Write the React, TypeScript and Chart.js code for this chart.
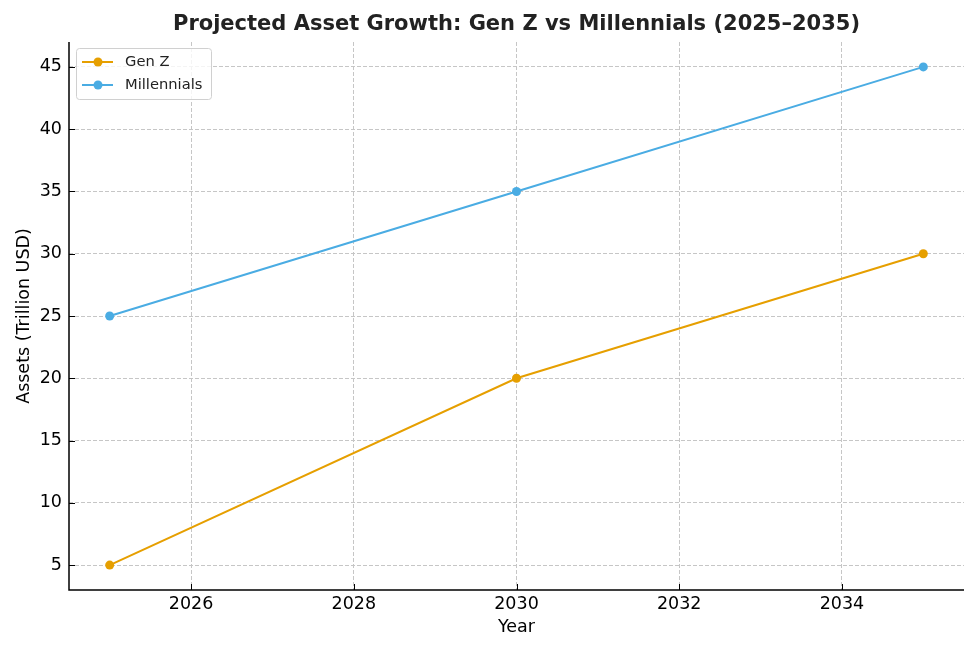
import { useEffect, useRef } from 'react';
import { Chart, registerables, Plugin } from 'chart.js';

Chart.register(...registerables);

const YEARS = [2025, 2030, 2035];
const GEN_Z = [5, 20, 30];
const MILLENNIALS = [25, 35, 45];
const X_TICKS = [2026, 2028, 2030, 2032, 2034];
const Y_TICKS = [5, 10, 15, 20, 25, 30, 35, 40, 45];

const TITLE = 'Projected Asset Growth: Gen Z vs Millennials (2025–2035)';
const FONT = '"DejaVu Sans", Verdana, sans-serif';
const ORANGE = '#E69F00';
const BLUE = '#4AACE3';
const GRID = '#c6c6c6';

// title centred over the plot area, like matplotlib
const titlePlugin: Plugin = {
  id: 'mplTitle',
  afterDraw(chart) {
    const { ctx, chartArea } = chart;
    ctx.save();
    ctx.font = `bold 21px ${FONT}`;
    ctx.fillStyle = '#222';
    ctx.textAlign = 'center';
    ctx.textBaseline = 'middle';
    ctx.fillText(TITLE, (chartArea.left + chartArea.right) / 2, 25);
    ctx.restore();
  },
};

// inward tick marks and the two spines
const tickPlugin: Plugin = {
  id: 'mplTicks',
  afterDraw(chart) {
    const { ctx, chartArea } = chart;
    const x = chart.scales.x;
    const y = chart.scales.y;
    ctx.save();
    ctx.strokeStyle = '#000';
    ctx.lineWidth = 1;
    ctx.beginPath();
    x.ticks.forEach((t) => {
      const px = Math.round(x.getPixelForValue(t.value)) + 0.5;
      ctx.moveTo(px, chartArea.bottom);
      ctx.lineTo(px, chartArea.bottom - 6);
    });
    y.ticks.forEach((t) => {
      const py = Math.round(y.getPixelForValue(t.value)) + 0.5;
      ctx.moveTo(chartArea.left, py);
      ctx.lineTo(chartArea.left + 6, py);
    });
    ctx.stroke();
    ctx.lineWidth = 1.5;
    ctx.beginPath();
    ctx.moveTo(chartArea.left, chartArea.top);
    ctx.lineTo(chartArea.left, chartArea.bottom);
    ctx.lineTo(chartArea.right, chartArea.bottom);
    ctx.stroke();
    ctx.restore();
  },
};

// legend box inside the plot, top-left
const legendPlugin: Plugin = {
  id: 'mplLegend',
  afterDraw(chart) {
    const { ctx, chartArea } = chart;
    const bx = chartArea.left + 7;
    const by = chartArea.top + 6;
    const bw = 135;
    const bh = 51;
    ctx.save();
    ctx.beginPath();
    ctx.roundRect(bx + 0.5, by + 0.5, bw, bh, 3);
    ctx.fillStyle = 'rgba(255,255,255,0.8)';
    ctx.fill();
    ctx.strokeStyle = '#d0d0d0';
    ctx.lineWidth = 1;
    ctx.stroke();
    ctx.font = `14.7px ${FONT}`;
    ctx.textBaseline = 'middle';
    chart.data.datasets.forEach((ds, i) => {
      const cy = by + 14 + i * 23;
      const color = ds.borderColor as string;
      ctx.strokeStyle = color;
      ctx.lineWidth = 2;
      ctx.beginPath();
      ctx.moveTo(bx + 6, cy);
      ctx.lineTo(bx + 37, cy);
      ctx.stroke();
      ctx.fillStyle = color;
      ctx.beginPath();
      ctx.arc(bx + 22, cy, 4.5, 0, Math.PI * 2);
      ctx.fill();
      ctx.fillStyle = '#222';
      ctx.fillText(ds.label as string, bx + 49, cy);
    });
    ctx.restore();
  },
};

export default function App() {
  const ref = useRef<HTMLCanvasElement>(null);
  const chart = useRef<Chart | null>(null);

  useEffect(() => {
    document.body.style.margin = '0';
    if (!ref.current) return;
    chart.current?.destroy();
    chart.current = new Chart(ref.current, {
      type: 'line',
      data: {
        datasets: [
          {
            label: 'Gen Z',
            data: YEARS.map((x, i) => ({ x, y: GEN_Z[i] })),
            borderColor: ORANGE,
            backgroundColor: ORANGE,
            borderWidth: 2,
            pointRadius: 4.5,
            pointBorderWidth: 0,
            tension: 0,
          },
          {
            label: 'Millennials',
            data: YEARS.map((x, i) => ({ x, y: MILLENNIALS[i] })),
            borderColor: BLUE,
            backgroundColor: BLUE,
            borderWidth: 2,
            pointRadius: 4.5,
            pointBorderWidth: 0,
            tension: 0,
          },
        ],
      },
      options: {
        responsive: false,
        animation: false,
        layout: { padding: { left: 0, right: 16, top: 42, bottom: 0 } },
        plugins: {
          legend: { display: false },
          title: { display: false },
          tooltip: { enabled: false },
        },
        scales: {
          x: {
            type: 'linear',
            min: 2024.5,
            max: 2035.5,
            afterBuildTicks: (s) => { s.ticks = X_TICKS.map((value) => ({ value })); },
            afterFit: (s) => { s.height = 63; },
            grid: { color: GRID, drawTicks: false, lineWidth: 1 },
            border: { display: false, dash: [4, 2] },
            ticks: {
              color: '#000',
              font: { family: FONT, size: 17.5 },
              padding: 4,
              callback: (v) => `${v}`,
            },
            title: {
              display: true,
              text: 'Year',
              color: '#000',
              font: { family: FONT, size: 17.5 },
              padding: { top: 0, bottom: 15 },
            },
          },
          y: {
            type: 'linear',
            min: 3,
            max: 47,
            afterBuildTicks: (s) => { s.ticks = Y_TICKS.map((value) => ({ value })); },
            afterFit: (s) => { s.width = 69; },
            grid: { color: GRID, drawTicks: false, lineWidth: 1 },
            border: { display: false, dash: [4, 2] },
            ticks: {
              color: '#000',
              font: { family: FONT, size: 17.5 },
              padding: 7,
            },
            title: {
              display: true,
              text: 'Assets (Trillion USD)',
              color: '#000',
              font: { family: FONT, size: 17.5 },
              padding: { top: 14, bottom: 0 },
            },
          },
        },
      },
      plugins: [titlePlugin, tickPlugin, legendPlugin],
    });
    return () => { chart.current?.destroy(); };
  }, []);

  return (
    <div style={{ width: 980, height: 653, background: '#fff' }}>
      <canvas ref={ref} width={980} height={653} style={{ width: 980, height: 653 }} />
    </div>
  );
}
